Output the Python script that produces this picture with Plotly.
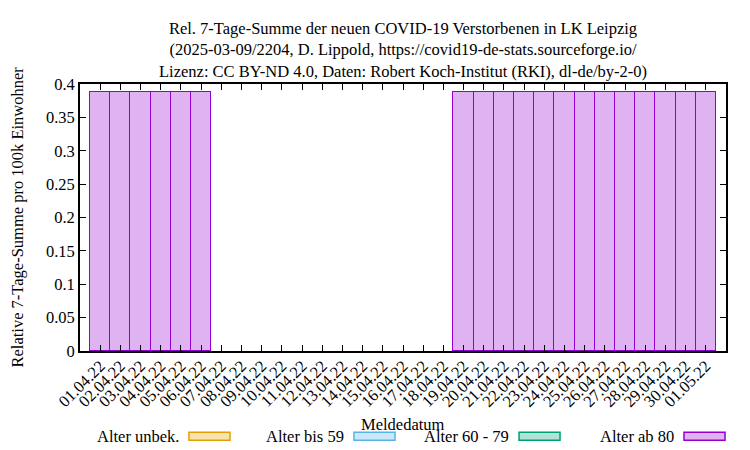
import plotly.graph_objects as go

dates = ["01.04.22", "02.04.22", "03.04.22", "04.04.22", "05.04.22", "06.04.22",
         "07.04.22", "08.04.22", "09.04.22", "10.04.22", "11.04.22", "12.04.22",
         "13.04.22", "14.04.22", "15.04.22", "16.04.22", "17.04.22", "18.04.22",
         "19.04.22", "20.04.22", "21.04.22", "22.04.22", "23.04.22", "24.04.22",
         "25.04.22", "26.04.22", "27.04.22", "28.04.22", "29.04.22", "30.04.22",
         "01.05.22"]

alter_unbek = [0.0] * 31
alter_bis_59 = [0.0] * 31
alter_60_79 = [0.0] * 31
alter_ab_80 = [0.388, 0.388, 0.388, 0.388, 0.388, 0.388,
               0, 0, 0, 0, 0, 0, 0, 0, 0, 0, 0, 0,
               0.388, 0.388, 0.388, 0.388, 0.388, 0.388, 0.388,
               0.388, 0.388, 0.388, 0.388, 0.388, 0.388]

series_names = ["Alter unbek.", "Alter bis 59", "Alter 60 - 79", "Alter ab 80"]
series_values = [alter_unbek, alter_bis_59, alter_60_79, alter_ab_80]
line_colors = ["#E69F00", "#56B4E9", "#009E73", "#9400D3"]
fill_colors = ["rgba(230,159,0,0.3)", "rgba(86,180,233,0.3)",
               "rgba(0,158,115,0.3)", "rgba(148,0,211,0.3)"]

y_ticks = [0, 0.05, 0.1, 0.15, 0.2, 0.25, 0.3, 0.35, 0.4]
y_ticklabels = ["0", "0.05", "0.1", "0.15", "0.2", "0.25", "0.3", "0.35", "0.4"]

FONT = "Liberation Serif"
FS = 16.5

fig = go.Figure()
for name, vals, lc, fc in zip(series_names, series_values, line_colors, fill_colors):
    # zero-height bars are not drawn (as in the original)
    shown = [v if v != 0 else None for v in vals]
    fig.add_trace(go.Bar(x=dates, y=shown, name=name,
                         marker=dict(color=fc, line=dict(color=lc, width=1.5)),
                         showlegend=False, hoverinfo="skip"))

# manual gnuplot-style legend (text left of sample box)
box_x0 = [0.1687, 0.4241, 0.6796, 0.9350]
box_w = 0.0635
for i, (name, lc, fc) in enumerate(zip(series_names, line_colors, fill_colors)):
    fig.add_shape(type="rect", xref="paper", yref="paper",
                  x0=box_x0[i], x1=box_x0[i] + box_w, y0=-0.3346, y1=-0.3045,
                  line=dict(color=lc, width=1.5), fillcolor=fc)
    fig.add_annotation(text=name, xref="paper", yref="paper",
                       x=box_x0[i] - 0.012, y=-0.3195, xanchor="right", yanchor="middle",
                       showarrow=False, font=dict(family=FONT, size=FS, color="black"))

fig.add_annotation(text="Meldedatum", xref="paper", yref="paper", x=0.5, y=-0.2744,
                   xanchor="center", yanchor="middle", showarrow=False,
                   font=dict(family=FONT, size=FS, color="black"))
fig.add_annotation(text="Relative 7-Tage-Summe pro 100k Einwohner", xref="paper", yref="paper",
                   x=-0.0975, y=0.5, xanchor="center", yanchor="middle", textangle=-90,
                   showarrow=False, font=dict(family=FONT, size=FS, color="black"))
fig.add_annotation(text="Rel. 7-Tage-Summe der neuen COVID-19 Verstorbenen in LK Leipzig<br>"
                        "(2025-03-09/2204, D. Lippold, https://covid19-de-stats.sourceforge.io/<br>"
                        "Lizenz: CC BY-ND 4.0, Daten: Robert Koch-Institut (RKI), dl-de/by-2-0)",
                   xref="paper", yref="paper", x=0.5, y=1.2519, xanchor="center", yanchor="top",
                   showarrow=False, align="center",
                   font=dict(family=FONT, size=FS, color="black"))

fig.update_layout(
    width=750, height=450,
    margin=dict(l=80, r=24, t=84, b=99, autoexpand=False),
    barmode="stack", bargap=0,
    plot_bgcolor="white", paper_bgcolor="white",
    font=dict(family=FONT, size=FS, color="black"),
    showlegend=False,
)
fig.update_xaxes(type="category", range=[-1, 31], tickangle=-45, automargin=False,
                 ticks="inside", ticklen=6, tickwidth=1, tickcolor="black",
                 ticklabelstandoff=-3,
                 showline=True, linecolor="black", linewidth=1.8, mirror="allticks",
                 showgrid=False, zeroline=False,
                 tickfont=dict(family=FONT, size=FS, color="black"))
fig.update_yaxes(range=[0, 0.4], tickvals=y_ticks, ticktext=y_ticklabels, automargin=False,
                 ticks="inside", ticklen=6, tickwidth=1, tickcolor="black",
                 showline=True, linecolor="black", linewidth=1.8, mirror="allticks",
                 showgrid=False, zeroline=False,
                 tickfont=dict(family=FONT, size=FS, color="black"))

fig.write_html("out.html", config={"displayModeBar": False},
               post_script="document.body.style.margin='0';document.body.style.overflow='hidden';")
